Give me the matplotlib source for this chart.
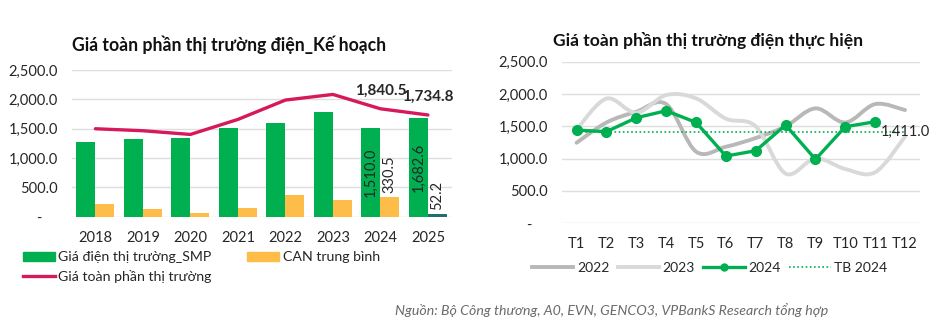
import matplotlib.pyplot as plt
import numpy as np
from matplotlib.path import Path
from matplotlib.patches import PathPatch, Patch
from matplotlib.lines import Line2D
from matplotlib.ticker import FuncFormatter

plt.rcParams['font.family'] = ['Lato', 'DejaVu Sans']

# Planned prices by year
years = ['2018', '2019', '2020', '2021', '2022', '2023', '2024', '2025']
smp = [1278, 1318, 1347, 1506, 1602, 1784, 1510.0, 1682.6]
can = [216, 131, 62, 142, 375, 284, 330.5, 52.2]
full_price = [1500, 1466, 1403, 1659, 1989, 2085, 1840.5, 1734.8]

# Actual monthly prices
months = ['T1', 'T2', 'T3', 'T4', 'T5', 'T6', 'T7', 'T8', 'T9', 'T10', 'T11', 'T12']
p2022 = [1247, 1560, 1727, 1845, 1110, 1185, 1320, 1500, 1779, 1560, 1845, 1753]
p2023 = [1450, 1930, 1710, 1985, 1934, 1620, 1500, 770, 1005, 840, 790, 1340]
p2024 = [1443, 1418, 1634, 1742, 1562, 1041, 1123, 1521, 990, 1495, 1572]
avg_2024 = 1411.0

GREEN = '#00b050'
ORANGE = '#fdbd48'
TEAL = '#1f6e70'
PINK = '#d6195c'
GRID = '#dedede'
TXT = '#262626'


def fmt(v, pos=None):
    return '-    ' if abs(v) < 1e-9 else f'{v:,.1f}'


def smooth_path(xs, ys):
    # Excel-style smoothed line as cubic Bezier segments
    pts = np.column_stack([xs, ys]).astype(float)
    n = len(pts)
    verts = [pts[0]]
    codes = [Path.MOVETO]
    for i in range(n - 1):
        p0 = pts[i - 1] if i > 0 else pts[i]
        p1 = pts[i]
        p2 = pts[i + 1]
        p3 = pts[i + 2] if i + 2 < n else pts[i + 1]
        c1 = p1 + (p2 - p0) / 6
        c2 = p2 - (p3 - p1) / 6
        verts += [c1, c2, p2]
        codes += [Path.CURVE4] * 3
    return Path(verts, codes)


fig = plt.figure(figsize=(9.33, 3.23), dpi=100)

# ---- left: planned full market price ----
ax1 = fig.add_axes([0.0768, 0.329, 0.4073, 0.454])
x = np.arange(len(years))
w = 0.4
can_colors = [ORANGE] * (len(years) - 1) + [TEAL]
ax1.bar(x - w / 2, smp, w, color=GREEN, zorder=2)
ax1.bar(x + w / 2, can, w, color=can_colors, zorder=2)
ax1.plot(x, full_price, color=PINK, lw=2.4, zorder=3, solid_capstyle='round')

for i in (6, 7):
    ax1.text(x[i] - w / 2, smp[i] / 2, f'{smp[i]:,.1f}', rotation=90,
             ha='center', va='center', fontsize=10.5, color=TXT, zorder=4)
    ax1.annotate(f'{can[i]:,.1f}', (x[i] + w / 2, can[i]), xytext=(0, 3),
                 textcoords='offset points', rotation=90, ha='center',
                 va='bottom', fontsize=10.5, color=TXT)
    ax1.annotate(f'{full_price[i]:,.1f}', (x[i], full_price[i]), xytext=(0, 8),
                 textcoords='offset points', ha='center', va='bottom',
                 fontsize=11, fontweight='bold', color=TXT)

ax1.set_xlim(-0.5, len(years) - 0.5)
ax1.set_ylim(0, 2500)
ax1.set_yticks(np.arange(0, 2501, 500))
ax1.yaxis.set_major_formatter(FuncFormatter(fmt))
ax1.set_xticks(x)
ax1.set_xticklabels(years)

# ---- right: actual monthly price ----
ax2 = fig.add_axes([0.602, 0.3087, 0.384, 0.500])
mx = np.arange(len(months))
ax2.add_patch(PathPatch(smooth_path(mx, p2022), fill=False, edgecolor='#b8b8b8',
                        lw=2.8, zorder=2, capstyle='round'))
ax2.add_patch(PathPatch(smooth_path(mx, p2023), fill=False, edgecolor='#d9d9d9',
                        lw=2.8, zorder=2, capstyle='round'))
ax2.plot(mx[:len(p2024)], p2024, color=GREEN, lw=2.4, marker='o', ms=7, zorder=4)
ax2.plot(mx, [avg_2024] * len(months), color=GREEN, lw=1.2, ls=(0, (1, 1.5)), zorder=3)
ax2.text(mx[-1], avg_2024, f'{avg_2024:,.1f}', ha='center', va='center',
         fontsize=10.5, color=TXT, zorder=5)

ax2.set_xlim(-0.5, len(months) - 0.5)
ax2.set_ylim(0, 2500)
ax2.set_yticks(np.arange(0, 2501, 500))
ax2.yaxis.set_major_formatter(FuncFormatter(fmt))
ax2.set_xticks(mx)
ax2.set_xticklabels(months)

for ax in (ax1, ax2):
    for s in ax.spines.values():
        s.set_visible(False)
    ax.grid(axis='y', color=GRID, lw=1, zorder=0)
    ax.set_axisbelow(True)
    ax.tick_params(length=0, labelsize=10.5, colors=TXT)
    ax.tick_params(axis='x', pad=10)
    ax.tick_params(axis='y', pad=10)

# titles
fig.text(0.0772, 0.861, 'Giá toàn phần thị trường điện_Kế hoạch', fontsize=12.7,
         fontweight='bold', color='#111111', va='center')
fig.text(0.5927, 0.876, 'Giá toàn phần thị trường điện thực hiện', fontsize=12.6,
         fontweight='bold', color='#111111', va='center')

# legends
h_left = [Patch(color=GREEN), Line2D([], [], color=PINK, lw=2.4), Patch(color=ORANGE)]
l_left = ['Giá điện thị trường_SMP', 'Giá toàn phần thị trường', 'CAN trung bình']
fig.legend(h_left, l_left, loc='upper left', bbox_to_anchor=(0.0247, 0.222), ncol=2,
           frameon=False, fontsize=10.2, handlelength=2.25, handleheight=0.6,
           handletextpad=0.25, columnspacing=2.5, labelspacing=0.45,
           borderpad=0, borderaxespad=0, labelcolor=TXT)

h_right = [Line2D([], [], color='#b8b8b8', lw=2.8),
           Line2D([], [], color='#d9d9d9', lw=2.8),
           Line2D([], [], color=GREEN, lw=2.4, marker='o', ms=5),
           Line2D([], [], color=GREEN, lw=1.2, ls=(0, (1, 1.5)))]
l_right = ['2022', '2023', '2024', 'TB 2024']
fig.legend(h_right, l_right, loc='center left', bbox_to_anchor=(0.570, 0.170), ncol=4,
           frameon=False, fontsize=10, handlelength=3.0, handletextpad=0.25,
           columnspacing=0.6, borderpad=0, borderaxespad=0, labelcolor=TXT)

fig.text(0.4234, 0.040, 'Nguồn: Bộ Công thương, A0, EVN, GENCO3, VPBankS Research tổng hợp',
         fontsize=10.2, style='italic', color='#6b6b6b', va='center')

fig.savefig('out.png', dpi=100)
